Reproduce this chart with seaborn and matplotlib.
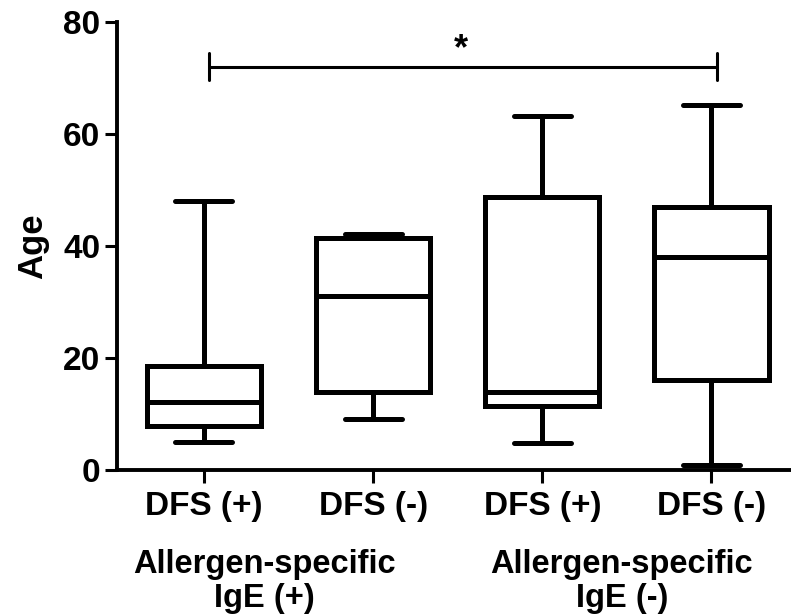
import matplotlib.pyplot as plt
import numpy as np
import pandas as pd
import seaborn as sns

# five-number summaries (min, Q1, median, Q3, max)
groups = ['IgE+ DFS+', 'IgE+ DFS-', 'IgE- DFS+', 'IgE- DFS-']
tick_labels = ['DFS (+)', 'DFS (-)', 'DFS (+)', 'DFS (-)']
age_min = [5.0, 9.1, 4.9, 0.9]
age_q1 = [7.9, 14.0, 11.4, 16.1]
age_med = [12.1, 31.0, 14.0, 38.0]
age_q3 = [18.6, 41.4, 48.8, 47.0]
age_max = [48.1, 42.1, 63.2, 65.2]
group_labels = ['Allergen-specific\nIgE (+)', 'Allergen-specific\nIgE (-)']

# long table: with 5 values per group the quartiles land exactly on the summary
rows = []
for i, g in enumerate(groups):
    for v in [age_min[i], age_q1[i], age_med[i], age_q3[i], age_max[i]]:
        rows.append({'group': g, 'Age': v})
df = pd.DataFrame(rows)

sns.set_style('ticks')
plt.rcParams['font.family'] = ['Liberation Sans', 'DejaVu Sans']
plt.rcParams['font.weight'] = 'bold'
for k in ['text.color', 'axes.edgecolor', 'axes.labelcolor', 'xtick.color', 'ytick.color']:
    plt.rcParams[k] = 'black'

fig = plt.figure(figsize=(7.91, 6.15), dpi=100)
ax = fig.add_axes([0.148, 0.2358, 0.852, 0.7282])

sns.boxplot(data=df, x='group', y='Age', order=groups, ax=ax,
            whis=(0, 100), width=0.675, color='white', linecolor='black',
            linewidth=3.6, fliersize=0,
            capprops={'solid_capstyle': 'round'})

ax.set_xlim(-0.513, 3.47)
ax.set_ylim(0, 80)
ax.set_yticks([0, 20, 40, 60, 80])
ax.set_xticks(range(4))
ax.set_xticklabels(tick_labels, fontsize=24, fontweight='bold')
ax.tick_params(axis='y', labelsize=24, width=2.2, length=9, pad=3)
ax.tick_params(axis='x', width=2.2, length=9, pad=6)
for lab in ax.get_yticklabels():
    lab.set_fontweight('bold')
ax.set_xlabel('')
ax.set_ylabel('Age', fontsize=25, fontweight='bold', labelpad=10)
sns.despine(ax=ax)
ax.spines['left'].set_linewidth(2.8)
ax.spines['bottom'].set_linewidth(2.8)

# significance bracket
ax.plot([0.03, 3.03], [71.9, 71.9], color='black', lw=2.2, clip_on=False)
ax.plot([0.03, 0.03], [69.6, 74.4], color='black', lw=2.2, clip_on=False)
ax.plot([3.03, 3.03], [69.6, 74.4], color='black', lw=2.2, clip_on=False)
ax.text(1.52, 72.0, '*', ha='center', va='bottom', fontsize=26, fontweight='bold')

# group labels under the ticks
ax.text(0.36, -0.176, group_labels[0], transform=ax.get_xaxis_transform(),
        ha='center', va='top', fontsize=23.5, fontweight='bold', linespacing=1.12)
ax.text(2.47, -0.176, group_labels[1], transform=ax.get_xaxis_transform(),
        ha='center', va='top', fontsize=23.5, fontweight='bold', linespacing=1.12)

fig.savefig('out.png', dpi=100)
